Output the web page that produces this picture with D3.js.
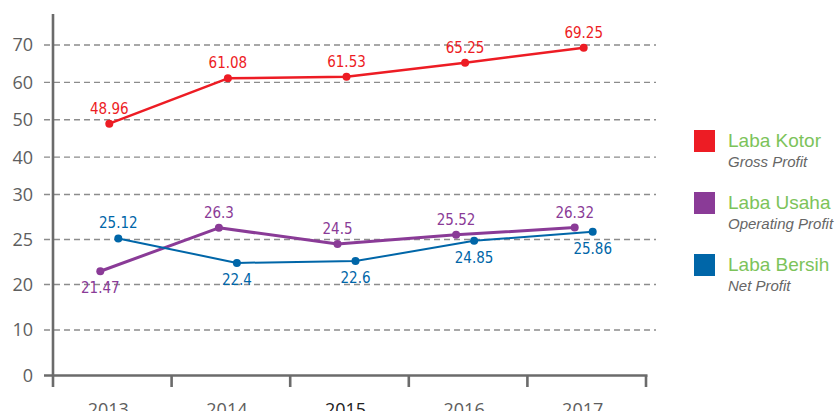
<!DOCTYPE html>
<html>
<head>
<meta charset="utf-8">
<script src="https://cdn.jsdelivr.net/npm/d3@7"></script>
<style>
  body { margin: 0; background: #fff; }
  svg { display: block; }
</style>
</head>
<body>
<div id="chart"></div>
<script>
// values (labels are the printed numbers)
const years = ["2013", "2014", "2015", "2016", "2017"];
const labaKotor = [48.96, 61.08, 61.53, 65.25, 69.25];
const labaUsaha = [21.47, 26.3, 24.5, 25.52, 26.32];
const labaBersih = [25.12, 22.4, 22.6, 24.85, 25.86];
const yTicks = [0, 10, 20, 25, 30, 40, 50, 60, 70];
const seriesNames = ["Laba Kotor", "Laba Usaha", "Laba Bersih"];
const seriesSubtitles = ["Gross Profit", "Operating Profit", "Net Profit"];

const width = 840;
const height = 411;
const colors = { "Laba Kotor": "#ed1c24", "Laba Usaha": "#8a3b97", "Laba Bersih": "#0066a8" };
const lineWidths = { "Laba Kotor": 2.5, "Laba Usaha": 3, "Laba Bersih": 2 };
const axisColor = "#6b6b6b";

const series = [
  { name: "Laba Kotor", values: labaKotor },
  { name: "Laba Usaha", values: labaUsaha },
  { name: "Laba Bersih", values: labaBersih }
];

const svg = d3.select("#chart")
              .append("svg")
              .attr("width", width)
              .attr("height", height);

const xScale = d3.scaleBand()
                 .domain(years)
                 .range([53, 646]);

// lines are drawn slightly apart from each other in the original
const seriesShift = d3.scalePoint()
                      .domain(["Laba Usaha", "Laba Kotor", "Laba Bersih"])
                      .range([-12, 6]);

// the axis is broken: 20-30 gets twice the room of the rest
const yScale = d3.scaleLinear()
                 .domain([0, 20, 30, 70])
                 .range([375.5, 284.5, 194.5, 45]);

const px = (name, i) => xScale(years[i]) + xScale.bandwidth() / 2 + seriesShift(name);

// grid
svg.append("g")
   .selectAll("line")
   .data(yTicks.filter(d => d > 0))
   .enter()
   .append("line")
   .attr("x1", 44)
   .attr("x2", 656)
   .attr("y1", d => yScale(d))
   .attr("y2", d => yScale(d))
   .attr("stroke", "#8c8c8c")
   .attr("stroke-width", 1.3)
   .attr("stroke-dasharray", "6,4");

// y tick labels
svg.append("g")
   .selectAll("text")
   .data(yTicks)
   .enter()
   .append("text")
   .attr("x", 33)
   .attr("y", d => yScale(d))
   .attr("dy", "0.36em")
   .attr("text-anchor", "end")
   .style("font-family", "Open Sans")
   .style("font-size", "18px")
   .style("fill", "#5e5e5e")
   .text(d => d);

// x axis
svg.append("line")
   .attr("x1", 44)
   .attr("x2", 647.5)
   .attr("y1", yScale(0))
   .attr("y2", yScale(0))
   .attr("stroke", axisColor)
   .attr("stroke-width", 2.6);

svg.append("g")
   .selectAll("line")
   .data(years.map(y => xScale(y)).concat([xScale.range()[1]]).slice(1))
   .enter()
   .append("line")
   .attr("x1", d => d)
   .attr("x2", d => d)
   .attr("y1", yScale(0))
   .attr("y2", 387)
   .attr("stroke", axisColor)
   .attr("stroke-width", 2.6);

// year labels sit partly below the bottom edge, as in the original
svg.append("g")
   .selectAll("text")
   .data(years)
   .enter()
   .append("text")
   .attr("x", d => xScale(d) + xScale.bandwidth() / 2 - 4)
   .attr("y", 416)
   .attr("text-anchor", "middle")
   .style("font-family", "Open Sans")
   .style("font-size", "18px")
   .style("fill", d => d === "2015" ? "#222" : "#5e5e5e")
   .text(d => d);

// y axis
svg.append("line")
   .attr("x1", 53)
   .attr("x2", 53)
   .attr("y1", 14)
   .attr("y2", 387)
   .attr("stroke", axisColor)
   .attr("stroke-width", 2.6);

// lines and points
const line = d3.line()
               .x(d => d.x)
               .y(d => yScale(d.v));

series.forEach(s => {
  const pts = s.values.map((v, i) => ({ x: px(s.name, i), v: v, i: i }));
  const g = svg.append("g");

  g.append("path")
   .datum(pts)
   .attr("d", line)
   .attr("fill", "none")
   .attr("stroke", colors[s.name])
   .attr("stroke-width", lineWidths[s.name])
   .attr("stroke-linejoin", "round");

  g.selectAll("circle")
   .data(pts)
   .enter()
   .append("circle")
   .attr("cx", d => d.x)
   .attr("cy", d => yScale(d.v))
   .attr("r", 4)
   .attr("fill", colors[s.name]);

  // the lower of usaha / bersih gets its label underneath
  const below = d => {
    if (s.name === "Laba Kotor") return false;
    const other = s.name === "Laba Usaha" ? labaBersih : labaUsaha;
    return d.v < other[d.i];
  };

  g.selectAll("text")
   .data(pts)
   .enter()
   .append("text")
   .attr("x", d => d.x)
   .attr("y", d => yScale(d.v) + (below(d) ? 22 : -10))
   .attr("text-anchor", "middle")
   .style("font-family", "DejaVu Sans Condensed")
   .style("font-size", "15px")
   .style("fill", colors[s.name])
   .text(d => d.v);
});

// legend
const legend = svg.append("g")
                  .selectAll("g")
                  .data(seriesNames)
                  .enter()
                  .append("g")
                  .attr("transform", (d, i) => `translate(694, ${130 + i * 62})`);

legend.append("rect")
      .attr("width", 21)
      .attr("height", 22)
      .attr("fill", d => colors[d]);

legend.append("text")
      .attr("x", 34)
      .attr("y", 17)
      .style("font-family", "Liberation Sans")
      .style("font-size", "19px")
      .style("fill", "#7cc35a")
      .text(d => d);

legend.append("text")
      .attr("x", 34)
      .attr("y", 37)
      .style("font-family", "Liberation Sans")
      .style("font-style", "italic")
      .style("font-size", "15px")
      .style("fill", "#666")
      .text((d, i) => seriesSubtitles[i]);
</script>
</body>
</html>
